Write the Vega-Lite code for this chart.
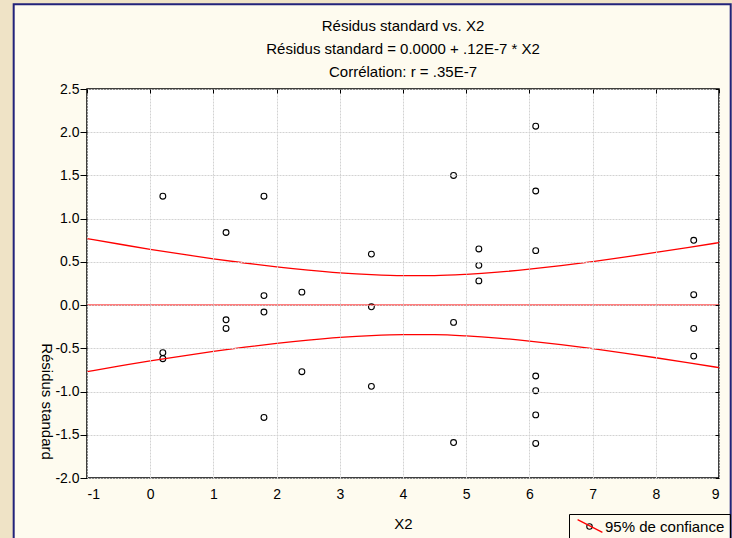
{
  "$schema": "https://vega.github.io/schema/vega-lite/v6.json",
  "width": 632,
  "height": 389,
  "autosize": {"type": "none"},
  "padding": {"left": 87, "top": 89, "right": 13, "bottom": 60},
  "background": "#efe3c6",
  "config": {"view": {"stroke": null}, "font": "Liberation Sans"},
  "title": {
    "text": ["Résidus standard vs. X2", "Résidus standard = 0.0000 + .12E-7 * X2", "Corrélation: r = .35E-7"],
    "frame": "group",
    "anchor": "middle",
    "baseline": "alphabetic",
    "offset": 0,
    "dy": 89,
    "lineHeight": 23.3,
    "fontSize": 15,
    "fontWeight": "normal",
    "font": "Liberation Sans",
    "color": "#000000"
  },
  "datasets": {
    "points": [
      {"x": 0.2, "y": 1.26, "pt": "95% de confiance"},
      {"x": 0.2, "y": -0.55, "pt": "95% de confiance"},
      {"x": 0.2, "y": -0.62, "pt": "95% de confiance"},
      {"x": 1.2, "y": 0.84, "pt": "95% de confiance"},
      {"x": 1.2, "y": -0.17, "pt": "95% de confiance"},
      {"x": 1.2, "y": -0.27, "pt": "95% de confiance"},
      {"x": 1.8, "y": 1.26, "pt": "95% de confiance"},
      {"x": 1.8, "y": 0.11, "pt": "95% de confiance"},
      {"x": 1.8, "y": -0.08, "pt": "95% de confiance"},
      {"x": 1.8, "y": -1.30, "pt": "95% de confiance"},
      {"x": 2.4, "y": 0.15, "pt": "95% de confiance"},
      {"x": 2.4, "y": -0.77, "pt": "95% de confiance"},
      {"x": 3.5, "y": 0.59, "pt": "95% de confiance"},
      {"x": 3.5, "y": -0.02, "pt": "95% de confiance"},
      {"x": 3.5, "y": -0.94, "pt": "95% de confiance"},
      {"x": 4.8, "y": 1.50, "pt": "95% de confiance"},
      {"x": 4.8, "y": -0.20, "pt": "95% de confiance"},
      {"x": 4.8, "y": -1.59, "pt": "95% de confiance"},
      {"x": 5.2, "y": 0.65, "pt": "95% de confiance"},
      {"x": 5.2, "y": 0.46, "pt": "95% de confiance"},
      {"x": 5.2, "y": 0.28, "pt": "95% de confiance"},
      {"x": 6.1, "y": 2.07, "pt": "95% de confiance"},
      {"x": 6.1, "y": 1.32, "pt": "95% de confiance"},
      {"x": 6.1, "y": 0.63, "pt": "95% de confiance"},
      {"x": 6.1, "y": -0.82, "pt": "95% de confiance"},
      {"x": 6.1, "y": -0.99, "pt": "95% de confiance"},
      {"x": 6.1, "y": -1.27, "pt": "95% de confiance"},
      {"x": 6.1, "y": -1.60, "pt": "95% de confiance"},
      {"x": 8.6, "y": 0.75, "pt": "95% de confiance"},
      {"x": 8.6, "y": 0.12, "pt": "95% de confiance"},
      {"x": 8.6, "y": -0.27, "pt": "95% de confiance"},
      {"x": 8.6, "y": -0.59, "pt": "95% de confiance"}
    ],
    "lines": [
      {"x": -1, "y": 0, "curve": "fit", "band": "95% de confiance"},
      {"x": 9, "y": 0, "curve": "fit", "band": "95% de confiance"},
      {"x": -1, "y": 0.770, "curve": "upper", "band": "95% de confiance"},
      {"x": -0.5, "y": 0.707, "curve": "upper", "band": "95% de confiance"},
      {"x": 0, "y": 0.645, "curve": "upper", "band": "95% de confiance"},
      {"x": 0.5, "y": 0.589, "curve": "upper", "band": "95% de confiance"},
      {"x": 1, "y": 0.536, "curve": "upper", "band": "95% de confiance"},
      {"x": 1.5, "y": 0.487, "curve": "upper", "band": "95% de confiance"},
      {"x": 2, "y": 0.443, "curve": "upper", "band": "95% de confiance"},
      {"x": 2.5, "y": 0.405, "curve": "upper", "band": "95% de confiance"},
      {"x": 3, "y": 0.374, "curve": "upper", "band": "95% de confiance"},
      {"x": 3.5, "y": 0.352, "curve": "upper", "band": "95% de confiance"},
      {"x": 4, "y": 0.341, "curve": "upper", "band": "95% de confiance"},
      {"x": 4.5, "y": 0.342, "curve": "upper", "band": "95% de confiance"},
      {"x": 5, "y": 0.356, "curve": "upper", "band": "95% de confiance"},
      {"x": 5.5, "y": 0.381, "curve": "upper", "band": "95% de confiance"},
      {"x": 6, "y": 0.416, "curve": "upper", "band": "95% de confiance"},
      {"x": 6.5, "y": 0.457, "curve": "upper", "band": "95% de confiance"},
      {"x": 7, "y": 0.504, "curve": "upper", "band": "95% de confiance"},
      {"x": 7.5, "y": 0.555, "curve": "upper", "band": "95% de confiance"},
      {"x": 8, "y": 0.609, "curve": "upper", "band": "95% de confiance"},
      {"x": 8.5, "y": 0.665, "curve": "upper", "band": "95% de confiance"},
      {"x": 9, "y": 0.723, "curve": "upper", "band": "95% de confiance"},
      {"x": -1, "y": -0.770, "curve": "lower", "band": "95% de confiance"},
      {"x": -0.5, "y": -0.707, "curve": "lower", "band": "95% de confiance"},
      {"x": 0, "y": -0.645, "curve": "lower", "band": "95% de confiance"},
      {"x": 0.5, "y": -0.589, "curve": "lower", "band": "95% de confiance"},
      {"x": 1, "y": -0.536, "curve": "lower", "band": "95% de confiance"},
      {"x": 1.5, "y": -0.487, "curve": "lower", "band": "95% de confiance"},
      {"x": 2, "y": -0.443, "curve": "lower", "band": "95% de confiance"},
      {"x": 2.5, "y": -0.405, "curve": "lower", "band": "95% de confiance"},
      {"x": 3, "y": -0.374, "curve": "lower", "band": "95% de confiance"},
      {"x": 3.5, "y": -0.352, "curve": "lower", "band": "95% de confiance"},
      {"x": 4, "y": -0.341, "curve": "lower", "band": "95% de confiance"},
      {"x": 4.5, "y": -0.342, "curve": "lower", "band": "95% de confiance"},
      {"x": 5, "y": -0.356, "curve": "lower", "band": "95% de confiance"},
      {"x": 5.5, "y": -0.381, "curve": "lower", "band": "95% de confiance"},
      {"x": 6, "y": -0.416, "curve": "lower", "band": "95% de confiance"},
      {"x": 6.5, "y": -0.457, "curve": "lower", "band": "95% de confiance"},
      {"x": 7, "y": -0.504, "curve": "lower", "band": "95% de confiance"},
      {"x": 7.5, "y": -0.555, "curve": "lower", "band": "95% de confiance"},
      {"x": 8, "y": -0.609, "curve": "lower", "band": "95% de confiance"},
      {"x": 8.5, "y": -0.665, "curve": "lower", "band": "95% de confiance"},
      {"x": 9, "y": -0.723, "curve": "lower", "band": "95% de confiance"}
    ]
  },
  "layer": [
    {
      "data": {"values": [{}]},
      "mark": {"type": "rect", "fill": "#fefbef", "stroke": "#22227a", "strokeWidth": 2, "clip": false},
      "encoding": {
        "x": {"datum": -2.16, "type": "quantitative", "scale": {"domain": [-1, 9], "nice": false, "zero": false}, "axis": null},
        "x2": {"datum": 9.185},
        "y": {"datum": -3.0, "type": "quantitative", "scale": {"domain": [-2, 2.5], "nice": false, "zero": false}, "axis": null},
        "y2": {"datum": 3.48}
      }
    },
    {
      "data": {"values": [{}]},
      "mark": {"type": "rect", "fill": "#ffffff", "stroke": "#000000", "strokeWidth": 1.5},
      "encoding": {
        "x": {"datum": -1, "type": "quantitative", "axis": {"orient": "top", "labels": false, "domain": false, "grid": false, "ticks": true, "tickSize": -4, "tickColor": "#000000", "values": [-1, 0, 1, 2, 3, 4, 5, 6, 7, 8, 9], "title": null, "zindex": 1}},
        "x2": {"datum": 9},
        "y": {"datum": -2, "type": "quantitative", "axis": {"orient": "right", "labels": false, "domain": false, "grid": false, "ticks": true, "tickSize": -4, "tickColor": "#000000", "values": [-2, -1.5, -1, -0.5, 0, 0.5, 1, 1.5, 2, 2.5], "title": null, "zindex": 1}},
        "y2": {"datum": 2.5}
      }
    },
    {
      "data": {"name": "points"},
      "mark": {"type": "point", "filled": false, "color": "#000000", "strokeWidth": 1.1, "size": 34, "opacity": 1},
      "encoding": {
        "x": {
          "field": "x", "type": "quantitative",
          "scale": {"domain": [-1, 9], "nice": false, "zero": false},
          "axis": {
            "orient": "bottom", "values": [-1, 0, 1, 2, 3, 4, 5, 6, 7, 8, 9],
            "labelExpr": "replace(format(datum.value, 'd'), '\u2212', '-')",
            "grid": true, "gridColor": "#d2d2d2", "gridDash": [2, 1], "gridWidth": 1,
            "ticks": false, "domain": false, "labelPadding": 9,
            "labelFont": "Liberation Sans", "labelFontSize": 14, "labelColor": "#000000",
            "title": "X2", "titleFont": "Liberation Sans", "titleFontSize": 15, "titleFontWeight": "normal", "titleColor": "#000000",
            "titleX": 316, "titleY": 50, "titleBaseline": "alphabetic", "titleAlign": "center",
            "zindex": 1
          }
        },
        "y": {
          "field": "y", "type": "quantitative",
          "scale": {"domain": [-2, 2.5], "nice": false, "zero": false},
          "axis": {
            "orient": "left", "values": [-2, -1.5, -1, -0.5, 0, 0.5, 1, 1.5, 2, 2.5],
            "labelExpr": "replace(format(datum.value, '.1f'), '\u2212', '-')",
            "grid": true, "gridColor": "#d2d2d2", "gridDash": [2, 1], "gridWidth": 1,
            "ticks": true, "tickSize": 7, "tickColor": "#000000", "domain": false, "labelPadding": 1,
            "labelFont": "Liberation Sans", "labelFontSize": 14, "labelColor": "#000000",
            "title": "Résidus standard", "titleFont": "Liberation Sans", "titleFontSize": 15, "titleFontWeight": "normal", "titleColor": "#000000",
            "titleAngle": 90, "titleX": -41, "titleY": 312, "titleBaseline": "middle", "titleAlign": "center",
            "zindex": 1
          }
        },
        "shape": {
          "field": "pt", "type": "nominal",
          "scale": {"range": ["circle"]},
          "legend": {
            "title": null, "orient": "none", "legendX": 482, "legendY": 425,
            "padding": 5, "strokeColor": "#000000", "cornerRadius": 0,
            "symbolType": "circle", "symbolSize": 30, "symbolStrokeColor": "#000000",
            "symbolFillColor": "transparent", "symbolStrokeWidth": 1.1,
            "symbolOffset": 8, "labelOffset": 8,
            "labelFont": "Liberation Sans", "labelFontSize": 15, "labelColor": "#000000"
          }
        }
      }
    },
    {
      "data": {"name": "lines"},
      "mark": {"type": "line", "strokeWidth": 1.3, "interpolate": "monotone"},
      "encoding": {
        "x": {"field": "x", "type": "quantitative", "axis": null},
        "y": {"field": "y", "type": "quantitative", "axis": null},
        "detail": {"field": "curve", "type": "nominal"},
        "color": {
          "field": "band", "type": "nominal",
          "scale": {"range": ["#ff0000"]},
          "legend": {
            "title": null, "orient": "none", "legendX": 494, "legendY": 428,
            "padding": 0, "symbolType": "M-1.55,-0.8L1.55,0.8", "symbolSize": 256,
            "symbolStrokeWidth": 1.3, "symbolFillColor": "transparent",
            "labelExpr": "''", "labelFontSize": 10
          }
        }
      }
    }
  ],
  "resolve": {"axis": {"x": "independent", "y": "independent"}}
}
